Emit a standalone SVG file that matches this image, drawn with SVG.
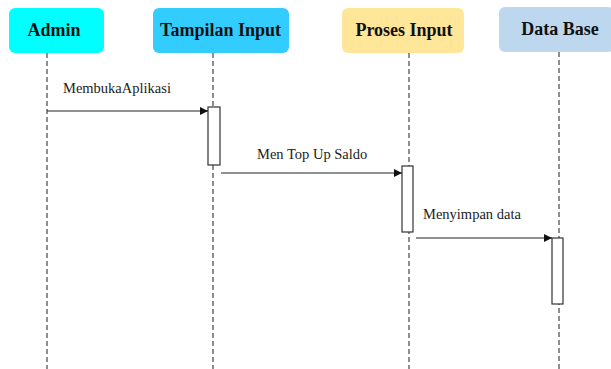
<svg xmlns="http://www.w3.org/2000/svg" width="611" height="369" viewBox="0 0 611 369">
  <defs>
    <style>
      .head { stroke: none; }
      .head-text { font-family: "Liberation Serif", "DejaVu Serif", serif; font-weight: bold; font-size: 18px; fill: #111; text-anchor: middle; }
      .life { stroke: #444; stroke-width: 1.2; stroke-dasharray: 5 3; fill: none; }
      .act { fill: #fff; stroke: #333; stroke-width: 1.2; }
      .msg { stroke: #222; stroke-width: 1.2; fill: none; marker-end: url(#arrow); }
      .msg-text { font-family: "Liberation Serif", "DejaVu Serif", serif; font-size: 14.5px; fill: #222; }
    </style>
    <marker id="arrow" viewBox="0 0 10 10" refX="10" refY="5" markerWidth="9" markerHeight="8" markerUnits="userSpaceOnUse" orient="auto">
      <path d="M0,0 L10,5 L0,10 z" fill="#111"/>
    </marker>
  </defs>

  <rect width="611" height="369" fill="#fff"/>

  <!-- lifelines -->
  <g id="lifelines">
    <line class="life" x1="47" y1="53" x2="47" y2="369"/>
    <line class="life" x1="213" y1="53" x2="213" y2="369"/>
    <line class="life" x1="409" y1="53" x2="409" y2="369"/>
    <line class="life" x1="559" y1="52" x2="559" y2="369"/>
  </g>

  <g id="admin">
    <rect class="head" x="9" y="8" width="95" height="45" rx="6" fill="#00FFFF"/>
    <text class="head-text" x="54" y="36">Admin</text>
  </g>

  <g id="tampilan-input">
    <rect class="head" x="153" y="8" width="136" height="45" rx="6" fill="#33CCFF"/>
    <text class="head-text" x="220.5" y="36">Tampilan Input</text>
    <rect class="act" x="208" y="107" width="12" height="58"/>
  </g>

  <g id="proses-input">
    <rect class="head" x="342" y="8" width="122" height="45" rx="6" fill="#FFE699"/>
    <text class="head-text" x="404" y="36">Proses Input</text>
    <rect class="act" x="402" y="166" width="11" height="66"/>
  </g>

  <g id="data-base">
    <rect class="head" x="499" y="7" width="115" height="45" rx="6" fill="#BDD7EE"/>
    <text class="head-text" x="560" y="35">Data Base</text>
    <rect class="act" x="552" y="238" width="11" height="66"/>
  </g>

  <!-- messages -->
  <g id="connectors">
    <line class="msg" x1="47" y1="111" x2="208" y2="111"/>
    <text class="msg-text" x="63" y="93">MembukaAplikasi</text>
    <line class="msg" x1="221" y1="173" x2="402" y2="173"/>
    <text class="msg-text" x="257" y="159">Men Top Up Saldo</text>
    <line class="msg" x1="416" y1="238" x2="552" y2="238"/>
    <text class="msg-text" x="423" y="219">Menyimpan data</text>
  </g>
</svg>
